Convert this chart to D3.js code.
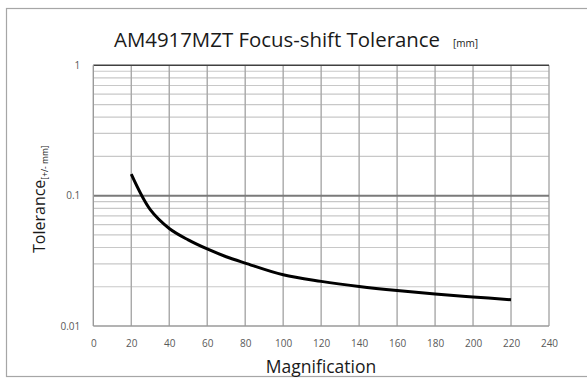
<!DOCTYPE html>
<html><head><meta charset="utf-8">
<script src="https://cdn.jsdelivr.net/npm/d3@7"></script>
<style>body{margin:0;background:#fff;}svg{display:block;}</style>
</head><body>
<script>
const magnification = [20, 30, 40, 50, 60, 70, 80, 100, 120, 140, 160, 180, 200, 220];
const tolerance = [0.146, 0.078, 0.056, 0.0458, 0.039, 0.034, 0.0304, 0.0247, 0.0220, 0.0201, 0.0187, 0.0176, 0.0167, 0.0159];
const xTicks = [0, 20, 40, 60, 80, 100, 120, 140, 160, 180, 200, 220, 240];
const yTicks = [1, 0.1, 0.01];
const yTickLabels = ["1", "0.1", "0.01"];
const titleText = "AM4917MZT Focus-shift Tolerance";
const titleUnit = "[mm]";
const yLabel = "Tolerance";
const yLabelSub = "[+/- mm]";
const xLabel = "Magnification";

const W = 587, H = 379;
const svg = d3.select("body").append("svg").attr("width", W).attr("height", H);
const font = "'Open Sans', sans-serif";

// outer frame
svg.append("rect").attr("x", 6.5).attr("y", 8.5).attr("width", 600).attr("height", 368)
  .attr("fill", "#fff").attr("stroke", "#a6a6a6").attr("stroke-width", 1.2);

const x = d3.scaleLinear().domain([0, 240]).range([93.3, 549]);
const y = d3.scaleLog().domain([0.01, 1]).range([326, 65.3]);

// minor horizontal gridlines
const minor = [];
[0.01, 0.1].forEach(d => { for (let k = 2; k <= 9; k++) minor.push(d * k); });
svg.append("g").selectAll("line").data(minor).join("line")
  .attr("x1", x(0)).attr("x2", x(240)).attr("y1", d => y(d)).attr("y2", d => y(d))
  .attr("stroke", "#c8c8c8").attr("stroke-width", 1.2);

// vertical gridlines
svg.append("g").selectAll("line").data(xTicks.filter(d => d > 0)).join("line")
  .attr("x1", d => x(d)).attr("x2", d => x(d)).attr("y1", y(1)).attr("y2", y(0.01))
  .attr("stroke", "#a8a8a8").attr("stroke-width", 1.4);

// major horizontal lines
svg.append("line").attr("x1", x(0)).attr("x2", x(240)).attr("y1", y(0.1)).attr("y2", y(0.1))
  .attr("stroke", "#7a7a7a").attr("stroke-width", 2);
svg.append("line").attr("x1", x(0)).attr("x2", x(240)).attr("y1", y(1)).attr("y2", y(1))
  .attr("stroke", "#404040").attr("stroke-width", 1.6);

// left and bottom axis lines
svg.append("line").attr("x1", x(0)).attr("x2", x(0)).attr("y1", y(1)).attr("y2", y(0.01))
  .attr("stroke", "#9a9a9a").attr("stroke-width", 1.4);
svg.append("line").attr("x1", x(0)).attr("x2", x(240)).attr("y1", y(0.01)).attr("y2", y(0.01))
  .attr("stroke", "#9a9a9a").attr("stroke-width", 1.4);

// x axis labels
const xAxis = d3.axisBottom(x).tickValues(xTicks).tickSize(0).tickPadding(14);
const gx = svg.append("g").attr("transform", `translate(0,${y(0.01)})`).call(xAxis);
gx.select(".domain").remove();
gx.selectAll("text").attr("font-family", font).attr("font-size", 10).attr("fill", "#595959");

// y axis labels
const yAxis = d3.axisLeft(y).tickValues(yTicks).tickFormat((d, i) => yTickLabels[i]).tickSize(0).tickPadding(13);
const gy = svg.append("g").attr("transform", `translate(${x(0)},0)`).call(yAxis);
gy.select(".domain").remove();
gy.selectAll("text").attr("font-family", font).attr("font-size", 10).attr("fill", "#595959");

// curve
const line = d3.line().x((d, i) => x(magnification[i])).y(d => y(d)).curve(d3.curveCatmullRom.alpha(0.5));
svg.append("path").datum(tolerance).attr("d", line)
  .attr("fill", "none").attr("stroke", "#000").attr("stroke-width", 3);

// title
const t = svg.append("text").attr("x", 114).attr("y", 47).attr("font-family", font)
  .attr("font-size", 20.4).attr("fill", "#1a1a1a");
t.append("tspan").text(titleText);
t.append("tspan").attr("font-size", 10).attr("dx", 13).attr("dy", 0).text(titleUnit);

// y label
const yl = svg.append("text").attr("transform", "translate(45,253) rotate(-90)")
  .attr("font-family", font).attr("font-size", 16).attr("fill", "#1a1a1a");
yl.append("tspan").text(yLabel);
yl.append("tspan").attr("font-size", 8.5).attr("dy", 3).text(yLabelSub);

// x label
svg.append("text").attr("x", 321).attr("y", 373).attr("text-anchor", "middle")
  .attr("font-family", font).attr("font-size", 17.5).attr("fill", "#1a1a1a").text(xLabel);
</script>
</body></html>
